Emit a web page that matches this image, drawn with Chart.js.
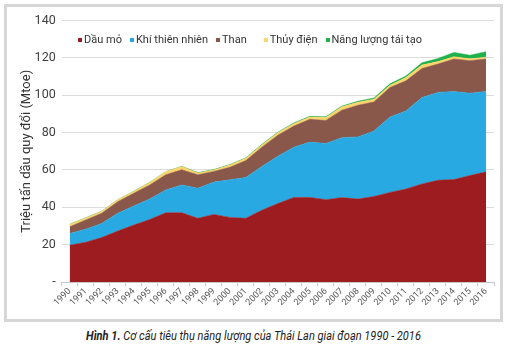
<!DOCTYPE html>
<html>
<head>
<meta charset="utf-8">
<script src="https://cdn.jsdelivr.net/npm/chart.js@4.4.1/dist/chart.umd.min.js"></script>
<style>
  html, body { margin: 0; padding: 0; background: #fff; }
  body { width: 507px; height: 353px; position: relative; overflow: hidden; }
  #frame {
    position: absolute; left: 4px; top: 4px;
    width: 493px; height: 312px;
    border: 3px solid #d6d6d6;
  }
  #frame canvas { display: block; }
  #legend {
    position: absolute; left: 78px; top: 33px;
    display: flex; align-items: center;
    font-family: Roboto, sans-serif; font-size: 11px; color: #333;
    white-space: nowrap;
  }
  #legend .item { display: flex; align-items: center; margin-right: 8px; }
  #legend .box { width: 4px; height: 4px; margin-right: 2px; }
  #caption {
    position: absolute; left: 0; top: 328px; width: 507px;
    text-align: center; font-family: Roboto, sans-serif; font-style: italic;
    font-size: 13px; color: #222; white-space: nowrap;
    transform: scaleX(0.85); transform-origin: center;
  }
  #caption b { font-weight: bold; }
</style>
</head>
<body>
<div id="frame"><canvas id="chart" width="493" height="312"></canvas></div>
<div id="legend"></div>
<div id="caption"><b>Hình 1.</b> Cơ cấu tiêu thụ năng lượng của Thái Lan giai đoạn 1990 - 2016</div>

<script>
// Số liệu (Mtoe)
const years = ['1990', '1991', '1992', '1993', '1994', '1995', '1996', '1997', '1998', '1999',
  '2000', '2001', '2002', '2003', '2004', '2005', '2006', '2007', '2008', '2009',
  '2010', '2011', '2012', '2013', '2014', '2015', '2016'];

const dauMo = [19.7, 21.3, 23.8, 27.3, 30.5, 33.5, 37.1, 37.1, 34.1, 36.2,
  34.6, 34.1, 38.5, 42.0, 45.3, 45.3, 44.1, 45.2, 44.4, 45.8,
  48.0, 49.8, 52.5, 54.5, 54.9, 57.0, 59.0];

const khiThienNhien = [6.3, 7.0, 7.6, 9.5, 10.2, 11.0, 12.2, 14.9, 16.1, 17.3,
  20.1, 21.9, 23.4, 25.3, 26.9, 29.6, 30.1, 32.1, 33.3, 35.0,
  40.3, 41.8, 46.3, 47.0, 47.1, 44.1, 43.0];

const than = [3.6, 4.9, 5.4, 6.2, 6.8, 7.5, 8.1, 8.1, 7.2, 5.7,
  6.7, 9.0, 10.3, 11.3, 11.3, 12.2, 12.3, 14.7, 16.9, 15.6,
  15.8, 16.1, 15.5, 15.2, 17.4, 17.4, 17.4];

const thuyDien = [1.2, 1.1, 1.0, 1.0, 1.0, 1.3, 1.6, 1.7, 1.0, 0.8,
  1.3, 1.3, 1.2, 1.3, 1.3, 1.2, 1.6, 1.8, 1.6, 1.5,
  1.2, 1.8, 1.9, 1.3, 1.2, 1.0, 0.9];

const taiTao = [0.1, 0.1, 0.1, 0.1, 0.1, 0.1, 0.1, 0.2, 0.2, 0.2,
  0.2, 0.2, 0.3, 0.3, 0.4, 0.4, 0.4, 0.4, 0.6, 0.6,
  0.8, 0.8, 1.2, 1.7, 2.3, 1.9, 3.0];

const seriesNames = ['Dầu mỏ', 'Khí thiên nhiên', 'Than', 'Thủy điện', 'Năng lượng tái tạo'];
const seriesColors = ['#9c1c20', '#29a9e1', '#8a574b', '#fcd46b', '#1db04b'];

const font = "Roboto, 'Open Sans', sans-serif";

function makeDataset(i, values) {
  return {
    label: seriesNames[i],
    data: values,
    backgroundColor: seriesColors[i],
    borderColor: seriesColors[i],
    borderWidth: 0.5,
    pointRadius: 0,
    tension: 0,
    fill: i === 0 ? 'origin' : '-1'
  };
}

// Chú giải nằm trong vùng vẽ, một hàng ngang
const legendEl = document.getElementById('legend');
seriesNames.forEach((name, i) => {
  const item = document.createElement('span');
  item.className = 'item';
  if (i === 2) item.style.marginRight = '17px';
  item.innerHTML = '<span class="box" style="background:' + seriesColors[i] + '"></span>' + name;
  legendEl.appendChild(item);
});

const ctx = document.getElementById('chart').getContext('2d');

new Chart(ctx, {
  type: 'line',
  data: {
    labels: years,
    datasets: [
      makeDataset(0, dauMo),
      makeDataset(1, khiThienNhien),
      makeDataset(2, than),
      makeDataset(3, thuyDien),
      makeDataset(4, taiTao)
    ]
  },
  options: {
    responsive: false,
    animation: false,
    layout: { padding: { top: 6, right: 6, bottom: 11, left: 12 } },
    scales: {
      x: {
        offset: true,
        grid: {
          offset: true,
          drawOnChartArea: false,
          color: '#c8c8c8',
          tickLength: 4
        },
        border: { color: '#c8c8c8' },
        ticks: {
          autoSkip: false,
          maxRotation: 45,
          minRotation: 45,
          padding: 0,
          color: '#555',
          font: { family: font, size: 9 }
        }
      },
      y: {
        stacked: true,
        min: 0,
        max: 140,
        border: { display: false },
        grid: { color: '#dcdcdc', drawTicks: false },
        ticks: {
          stepSize: 20,
          padding: 6,
          color: '#404040',
          font: { family: font, size: 12.5 },
          callback: function(value) { return value === 0 ? '-' : value; }
        },
        title: {
          display: true,
          text: 'Triệu tấn dầu quy đổi (Mtoe)',
          color: '#333',
          font: { family: font, size: 13 },
          padding: { top: 0, bottom: -6 }
        }
      }
    },
    plugins: {
      legend: { display: false },
      tooltip: { enabled: false }
    }
  }
});
</script>
</body>
</html>
